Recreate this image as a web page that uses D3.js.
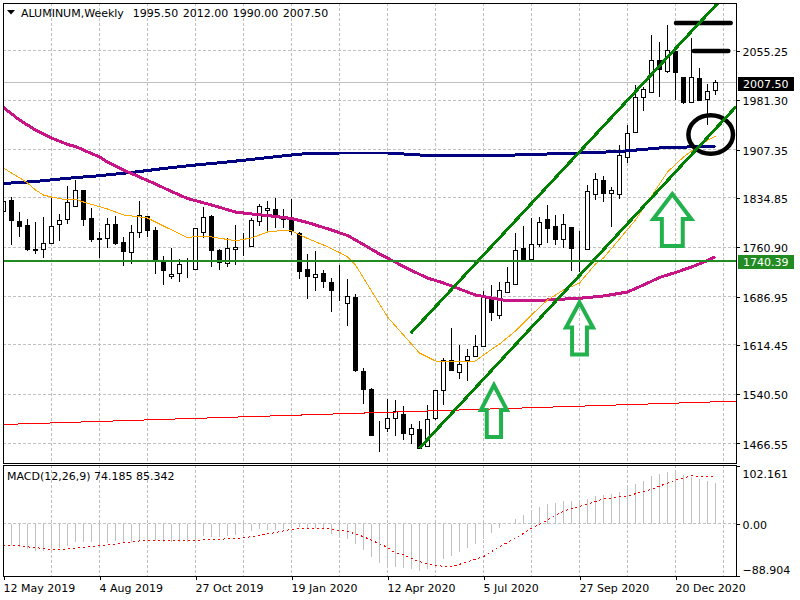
<!DOCTYPE html>
<html>
<head>
<meta charset="utf-8">
<script src="https://cdn.jsdelivr.net/npm/d3@7/dist/d3.min.js"></script>
<style>
html,body{margin:0;padding:0;background:#fff;overflow:hidden}
svg{display:block}
text{font-family:"DejaVu Sans",sans-serif;font-size:11px;fill:#000}
</style>
</head>
<body>
<svg id="chart" width="800" height="600"></svg>
<script>
const chartTitle = "ALUMINUM,Weekly  1995.50 2012.00 1990.00 2007.50";
const macdTitle = "MACD(12,26,9) 74.185 85.342";
const priceTicks = [2055.25,1981.30,1907.35,1834.85,1760.90,1686.95,1614.45,1540.50,1466.55];
const macdTicks = [102.161,0,-88.904];
const dateTickIndex = [0,12,24,36,48,60,72,84];
const dateTickLabels = ["12 May 2019","4 Aug 2019","27 Oct 2019","19 Jan 2020","12 Apr 2020","5 Jul 2020","27 Sep 2020","20 Dec 2020"];
const lastPrice = 2007.50;
const levelPrice = 1740.39;

const open = [1813.75,1830.25,1800.25,1794.25,1757.8,1757.8,1766.8,1795.3,1802.2,1822.3,
1846.3,1804.3,1774.3,1774.3,1795.3,1768.3,1753.3,1783.3,1807.3,1786.3,
1739.2,1717.3,1721.8,1733.8,1727.8,1782.8,1807.3,1756.75,1736.8,1757.8,
1763.8,1761.7,1800.7,1815.7,1816.75,1807.75,1804.3,1781.8,1728.25,1716.7,
1722.25,1708.75,1685.8,1677.7,1686.25,1575.25,1548.25,1480.3,1488.7,1503.7,
1510.75,1480.3,1487.8,1461.7,1504.3,1546.3,1590.7,1572.7,1590.7,1597.3,
1612.3,1684.3,1658.8,1693.3,1704.7,1759.3,1742.2,1764.7,1802.8,1792.75,
1772.2,1790.8,1759.3,1757.8,1840.3,1861.3,1841.2,1841.2,1895.2,1933.3,
1985.8,1993.3,2041.3,2025.25,2054.8,2015.2,1978.3,2014.3,1982.8,1995.5];
const high = [1870,1835.75,1813.3,1802.8,1799.2,1805.8,1836.7,1810.75,1852.75,1861.75,
1846.75,1819.75,1783.75,1804.3,1807.75,1776.7,1794.25,1830.25,1807.75,1791.7,
1747.75,1759.75,1742.8,1744.3,1789.3,1821.25,1809.25,1758.25,1774.75,1793.8,
1782.8,1804.3,1825.75,1830.25,1834.3,1818.25,1833.25,1783.3,1750.75,1755.25,
1726.75,1714.75,1734.25,1713.25,1690.3,1579.75,1549.3,1500.25,1533.25,1531.75,
1522.75,1495.75,1500.25,1524.25,1546.75,1594.3,1639.3,1614.25,1607.8,1629.25,
1695.8,1704.25,1709.2,1731.25,1782.25,1792.75,1804.3,1806.7,1824.25,1809.25,
1810.75,1791.25,1785.7,1854.25,1871.8,1867.75,1850.8,1914.25,1944.25,2004.25,
2000.8,2079.25,2068.3,2094.25,2055.25,2016.25,2074.3,2029.3,2005.75,2012];
const low = [1794.25,1764.25,1776.7,1755.7,1750.75,1744.75,1765.75,1770.7,1795.75,1821.7,
1793.2,1769.2,1745.2,1759.75,1764.7,1732.75,1736.2,1774.3,1775.8,1721.2,
1704.7,1713.7,1709.2,1715.2,1727.8,1775.2,1731.7,1726.75,1731.7,1734.7,
1747.75,1760.8,1793.2,1785.7,1790.2,1789.3,1779.25,1713.25,1683.7,1695.25,
1700.2,1663.75,1680.7,1642.75,1573.75,1525.75,1477.75,1454.2,1484.2,1477.75,
1471.75,1465.75,1458.25,1461.7,1501.75,1524.25,1575.7,1563.7,1560.25,1596.7,
1611,1650.7,1653.7,1693.3,1704.7,1741.75,1741.75,1761.25,1767.7,1764.25,
1759.3,1725.7,1723.75,1757.8,1831.75,1829.2,1791.7,1833.7,1887.7,1933.3,
1965.7,1993.3,1986.7,2021.8,1981.75,1975.3,1976.8,1980.7,1944.25,1990];
const close = [1828.75,1800.75,1793.2,1758.25,1755.7,1766.8,1792.3,1801.3,1828.3,1846.3,
1802.2,1772.2,1772.2,1795.3,1766.2,1754.2,1783.3,1808.8,1785.7,1741.3,
1725.7,1720.3,1735.3,1733.8,1789.3,1805.8,1755.7,1738.3,1759.3,1760.8,
1763.8,1801.3,1822.75,1819.3,1806.7,1803.7,1784.2,1724.2,1717.75,1720.75,
1710.25,1696.75,1685.8,1687.75,1576.75,1548.25,1479.25,1480.3,1504.3,1514.2,
1482.7,1489.3,1459.3,1502.8,1546.3,1590.7,1575.7,1585.3,1597.3,1612.3,
1685.8,1662.7,1696.3,1708.3,1756.3,1742.2,1765.3,1798.3,1788.7,1773.7,
1795.3,1759.3,1759.3,1844.8,1862.8,1841.2,1846.3,1899.25,1931.8,1985.8,
1997.8,2041.3,2028.25,2056.3,2023.3,1977.7,2015.8,1980.7,1994.8,2007.5];

const fastMaIndex = [0,1,2,3,4,5,6,8,9,10,13,15,18,20,23,24,26,29,31,33,35,36,38,40,42,43,44,45,47,48,50,52,54,56,59,60,62,64,66,68,70,72,74,75,77,79,81,83,85,87,89];
const fastMa = [1879.75,1872.25,1865.2,1857.25,1846.75,1839.25,1836.25,1831.75,1832.8,1828.75,1818.25,1809.25,1804.75,1792.75,1775.2,1777,1776.25,1770.7,1774.75,1783.75,1786.3,1785.7,1774,1764.25,1753,1746.25,1734.25,1714.75,1675.75,1656.25,1629.25,1602.25,1590.25,1588.75,1590.25,1599.25,1615.75,1635.25,1659.25,1681.75,1696.75,1707.25,1735.75,1744.75,1773.25,1801.75,1837.75,1873.75,1896.25,1914.25,1927.75];
const midMaIndex = [0,2,4,6,8,9,12,13,15,17,19,21,23,26,29,31,33,36,38,41,43,45,47,49,51,53,55,57,59,61,63,66,69,72,75,78,80,82,84,86,88,89];
const midMa = [1970.5,1951.75,1936.75,1924.75,1915,1912,1896.25,1888.75,1876.75,1866.25,1855.75,1844.5,1834,1824.25,1813.75,1810.75,1808.5,1804,1798,1786.75,1778.5,1765,1750.75,1738.3,1726,1714.75,1707.25,1698.25,1689.25,1684.75,1680.7,1680.25,1682.5,1684.3,1687.75,1693.75,1704.25,1715.5,1723,1731.25,1741,1746.7];
const slowMaIndex = [0,4,8,12,16,20,24,28,32,36,38,42,48,52,58,64,72,77,82,89];
const slowMa = [1856.5,1859.5,1864.3,1868.2,1873,1879,1884.25,1888.75,1894,1899.25,1901.5,1902.25,1902.25,1899.25,1897.75,1899.25,1902.25,1904.5,1909.75,1912.75];
const longLineIndex = [-0.1,91.7];
const longLine = [1495,1530];

const channelUpperIndex = [50.9,89.3];
const channelUpper = [1631.8,2127.25];
const channelLowerIndex = [51.98,91.56];
const channelLower = [1459.3,1971.7];

const arrowTipIndex = [61.3,72,83.6];
const arrowTipPrice = [1554.25,1678,1840.75];
const arrowHalfWidth = [13,13.5,19];

const barLevelPrice = [2097.25,2055.25];
const barLevelStart = [84.06,86.3];
const barLevelEnd = [90.9,90.6];
const ringIndex = 88.4;
const ringPrice = 1930;

const macdHist = [-37.8,-37.8,-42,-45.6,-48,-48,-44.4,-43.8,-39.6,-33,
-31.8,-31.8,-39.6,-34.8,-30.6,-34.8,-31.8,-28.8,-30.6,-30.6,
-31.8,-31.8,-31.8,-31.8,-28.8,-21.6,-22.8,-24,-21.6,-19.8,
-13.8,-12,-9,-10.8,-10.8,-9,-7.8,-4.8,-7.8,-7.8,
-9.6,-18,-25.8,-27,-36,-46.8,-58.8,-69.6,-78,-76.8,
-78.6,-81,-84,-80.4,-76.8,-63.6,-57,-49.8,-43.2,-36,
-26.4,-15.6,-6.6,0,9,16.2,24,31.2,35.4,37.8,
40.8,41.4,39,45,50.4,51.6,54,57,64.2,72,
77.4,86.4,90,93.6,97.2,88.2,85.2,81,77.4,74.185];
const signalIndex = [0,2,4,6,8,11,14,17,20,24,26,30,33,36,38,40,43,45,48,49,50,52,54,56,57,60,62,64,66,68,70,73,75,78,81,84,86,89];
const signal = [-38.4,-39.6,-42.6,-45.6,-45,-40.8,-36,-30.6,-30.6,-29.4,-28.2,-25.2,-18,-9.6,-7.8,-7.8,-13.2,-22.8,-42,-52.8,-55.8,-67.8,-75,-76.8,-72.6,-58.8,-40.8,-25.8,-7.8,7.2,23.4,35.4,45,50.4,62.4,79.2,86.4,85.342];

const svg = d3.select("#chart");
const L = 3, R = 736, T = 3, B = 463, MT = 465, MB = 576;
const snap = v => Math.floor(v) + 0.5;

const x = d3.scaleLinear().domain([0,89]).range([3.5,715.5]);
const y = d3.scaleLinear().domain([1437.25,2127.25]).range([B,T]);
const ym = d3.scaleLinear().domain([-88.904,102.161]).range([573.4,467.2]);

svg.append("defs").append("clipPath").attr("id","top-pane")
  .append("rect").attr("x",L).attr("y",T).attr("width",R-L).attr("height",B-T);

const crisp = s => s.attr("shape-rendering","crispEdges");

// grid
const gridG = svg.append("g").attr("fill","none").attr("stroke","#c0c0c0").attr("stroke-dasharray","3,2").call(crisp);
gridG.selectAll(".h").data(priceTicks).join("line")
  .attr("x1",L).attr("x2",R).attr("y1",d=>snap(y(d))).attr("y2",d=>snap(y(d)));
const vgrid = d3.range(1,16).map(k=>L+48*k+0.5);
gridG.selectAll(".v1").data(vgrid).join("line").attr("class","v1")
  .attr("x1",d=>d).attr("x2",d=>d).attr("y1",T).attr("y2",B);
gridG.selectAll(".v2").data(vgrid).join("line").attr("class","v2")
  .attr("x1",d=>d).attr("x2",d=>d).attr("y1",MT).attr("y2",MB);
gridG.append("line").attr("x1",L).attr("x2",R).attr("y1",snap(ym(0))).attr("y2",snap(ym(0)));

svg.append("line").attr("x1",L).attr("x2",R).attr("y1",snap(y(lastPrice))).attr("y2",snap(y(lastPrice)))
  .attr("stroke","#c0c0c0").call(crisp);

const pane = svg.append("g").attr("clip-path","url(#top-pane)");

// candles
const candles = pane.append("g").selectAll("g").data(open.map((o,i)=>({i,o,h:high[i],l:low[i],c:close[i]}))).join("g").call(crisp);
candles.append("line")
  .attr("x1",d=>x(d.i)).attr("x2",d=>x(d.i))
  .attr("y1",d=>y(d.h)).attr("y2",d=>y(d.l)).attr("stroke","#000");
candles.append("rect")
  .attr("x",d=>x(d.i)-2).attr("width",4)
  .attr("y",d=>snap(y(Math.max(d.o,d.c))))
  .attr("height",d=>Math.max(0,Math.round(Math.abs(y(d.o)-y(d.c)))))
  .attr("fill",d=>d.c>=d.o?"#fff":"#000").attr("stroke","#000");

const seriesLine = (idx,vals,color,width) => pane.append("path")
  .datum(idx.map((v,k)=>[v,vals[k]]))
  .attr("fill","none").attr("stroke",color).attr("stroke-width",width)
  .attr("stroke-linejoin","round").call(crisp)
  .attr("d",d3.line().x(d=>x(d[0])).y(d=>y(d[1])));

seriesLine(longLineIndex,longLine,"#ff0000",1);
seriesLine(slowMaIndex,slowMa,"#000080",3);
seriesLine(midMaIndex,midMa,"#c71585",3);
seriesLine(fastMaIndex,fastMa,"#ffa500",1);

// level line
svg.append("line").attr("x1",L).attr("x2",R).attr("y1",y(levelPrice)).attr("y2",y(levelPrice))
  .attr("stroke","#228b22").attr("stroke-width",2).call(crisp);

// hand-drawn marks
pane.append("ellipse").attr("cx",x(ringIndex)).attr("cy",y(ringPrice)).attr("rx",22.3).attr("ry",19.3)
  .attr("fill","none").attr("stroke","#000").attr("stroke-width",4.5);
pane.selectAll(".lvl").data(barLevelPrice).join("line").attr("class","lvl")
  .attr("x1",(d,i)=>x(barLevelStart[i])).attr("x2",(d,i)=>x(barLevelEnd[i]))
  .attr("y1",d=>y(d)).attr("y2",d=>y(d))
  .attr("stroke","#000").attr("stroke-width",4.5).attr("stroke-linecap","round");

seriesLine(channelUpperIndex,channelUpper,"#008000",3);
seriesLine(channelLowerIndex,channelLower,"#008000",3);

// arrows
arrowTipIndex.forEach((ix,k)=>{
  const tx = x(ix), ty = y(arrowTipPrice[k]), w = arrowHalfWidth[k], s = w*0.55;
  const pts = [[0,0],[w,25],[s,25],[s,52],[-s,52],[-s,25],[-w,25]];
  svg.append("polygon")
    .attr("points",pts.map(p=>[tx+p[0],ty+p[1]].join(",")).join(" "))
    .attr("fill","none").attr("stroke","#22b14c").attr("stroke-width",4).attr("stroke-linejoin","miter");
});

// MACD pane
const macdG = svg.append("g");
macdG.selectAll("line").data(macdHist).join("line").call(crisp)
  .attr("x1",(d,i)=>x(i)).attr("x2",(d,i)=>x(i))
  .attr("y1",ym(0)).attr("y2",d=>ym(d))
  .attr("stroke","#c0c0c0");
macdG.append("path").datum(signalIndex.map((v,k)=>[v,signal[k]]))
  .attr("fill","none").attr("stroke","#ff0000").attr("stroke-dasharray","2,3").call(crisp)
  .attr("d",d3.line().x(d=>x(d[0])).y(d=>ym(d[1])));

// frames
svg.append("g").attr("fill","none").attr("stroke","#000").call(crisp).selectAll("rect")
  .data([[L,T,R-L,B-T],[L,MT,R-L,MB-MT]]).join("rect")
  .attr("x",d=>d[0]-0.5+1).attr("y",d=>d[1]+0.5).attr("width",d=>d[2]).attr("height",d=>d[3]);

// axes
const priceAxis = d3.axisRight(y).tickValues(priceTicks).tickSize(3).tickPadding(3).tickFormat(d3.format(".2f"));
const priceG = svg.append("g").attr("transform",`translate(${R+0.5},0)`).call(priceAxis);
priceG.select(".domain").remove();
priceG.selectAll("text").attr("fill","#000").attr("dy","0.42em").style("font-size","11px").style("font-family",'"DejaVu Sans"');
priceG.selectAll("line").call(crisp);

const macdAxis = d3.axisRight(ym).tickValues(macdTicks).tickSize(3).tickPadding(3).tickFormat(d=>d===0?"0.00":d3.format(".3f")(d));
const macdAxisG = svg.append("g").attr("transform",`translate(${R+0.5},0)`).call(macdAxis);
macdAxisG.select(".domain").remove();
macdAxisG.selectAll("line").call(crisp)
  .attr("transform",d=>d>0?"translate(0,-1.5)":d<0?"translate(0,2.3)":null);
macdAxisG.selectAll("text").attr("fill","#000").attr("dy","0.42em").style("font-size","11px").style("font-family",'"DejaVu Sans"')
  .attr("transform",d=>d>0?"translate(0,5.5)":d<0?"translate(0,-4.5)":null);

const dateAxis = d3.axisBottom(x).tickValues(dateTickIndex).tickSize(3).tickPadding(4.5)
  .tickFormat((d,i)=>dateTickLabels[i]);
const dateG = svg.append("g").attr("transform",`translate(0,${MB+0.5})`).call(dateAxis);
dateG.select(".domain").remove();
dateG.selectAll("line").call(crisp);
dateG.selectAll("text").attr("text-anchor","start").attr("x",-0.5).attr("fill","#000")
  .style("font-size","11px").style("font-family",'"DejaVu Sans"');

// price tags
const tag = (price,bg,label) => {
  const cy = Math.round(y(price));
  svg.append("rect").attr("x",738).attr("y",cy-6).attr("width",56).attr("height",13.5).attr("fill",bg).call(crisp);
  svg.append("text").attr("x",743).attr("y",cy+5).style("fill","#fff").text(label);
};
tag(lastPrice,"#000","2007.50");
tag(levelPrice,"#228b22","1740.39");

// titles
svg.append("polygon").attr("points",[[7,10],[15,10],[11,14.5]].map(p=>p.join(",")).join(" "))
  .attr("fill","#000");
svg.append("text").attr("x",21).attr("y",16.5).style("white-space","pre").style("word-spacing","1px").text(chartTitle);
svg.append("text").attr("x",7).attr("y",480).text(macdTitle);
</script>
</body>
</html>
